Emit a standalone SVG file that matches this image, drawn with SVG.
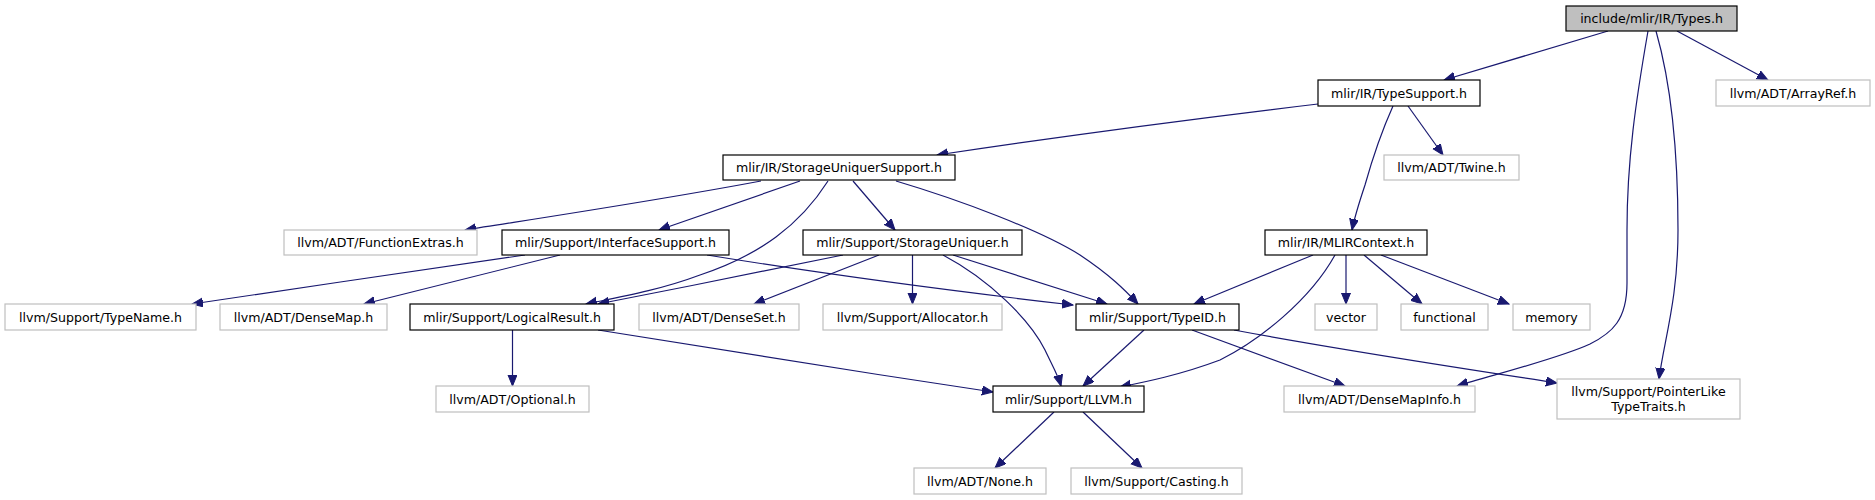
<svg xmlns="http://www.w3.org/2000/svg" width="1875" height="500" viewBox="0 0 1875 500">
<style>
.n rect{fill:#ffffff;stroke:#000000;stroke-width:1.2}
.g rect{fill:#ffffff;stroke:#bfbfbf;stroke-width:1.2}
.root rect{fill:#bfbfbf;stroke:#000000;stroke-width:1.2}
text{font-family:"DejaVu Sans","Liberation Sans",sans-serif;font-size:12.6px;fill:#000000;text-anchor:middle}
#edges path{fill:none;stroke:#191970;stroke-width:1.2;marker-end:url(#ah)}
</style>
<defs>
<marker id="ah" markerUnits="userSpaceOnUse" markerWidth="12" markerHeight="10" refX="11" refY="4.5" orient="auto">
<path d="M0,0 L11,4.5 L0,9 z" fill="#191970" stroke="#191970" stroke-width="1"/>
</marker>
</defs>
<rect x="0" y="0" width="1875" height="500" fill="#ffffff"/>
<g id="edges">
<path d="M1608,31 L1444,80"/>
<path d="M1677,31 L1768,80"/>
<path d="M1648,31 C1636,100 1627,160 1627,230 L1627,283 C1627,320 1612,333 1590,344 C1560,358 1500,373 1457,386"/>
<path d="M1656,31 C1670,80 1678,140 1678,230 C1678,300 1664,340 1659,379"/>
<path d="M1318,104 C1200,118 1050,138 937,155"/>
<path d="M1408,106 L1443,155"/>
<path d="M1393,106 C1380,135 1372,160 1365,185 C1360,200 1355,215 1352,230"/>
<path d="M761,181 C660,200 560,215 465,230"/>
<path d="M800,181 L659,230"/>
<path d="M853,181 L895,230"/>
<path d="M828,181 C800,225 760,255 700,275 C660,290 620,297 586,304"/>
<path d="M896,181 C960,200 1040,230 1080,255 C1110,275 1125,290 1138,304"/>
<path d="M525,255 C420,270 300,288 192,304"/>
<path d="M560,255 L364,304"/>
<path d="M707,255 C830,275 960,292 1073,305"/>
<path d="M843,255 C760,272 680,288 598,304"/>
<path d="M879,255 L754,304"/>
<path d="M912.5,255 L912.5,304"/>
<path d="M953,255 L1107,304"/>
<path d="M943,255 C990,280 1030,320 1045,350 C1052,365 1058,375 1061,386"/>
<path d="M1313,255 L1194,304"/>
<path d="M1335,255 C1310,300 1260,340 1220,360 C1180,375 1145,382 1120,387"/>
<path d="M1346,255 L1346,304"/>
<path d="M1364,255 L1422,304"/>
<path d="M1381,255 L1509,304"/>
<path d="M512.5,330 L512.5,386"/>
<path d="M598,330 C720,350 860,372 993,392"/>
<path d="M1144,330 L1083,386"/>
<path d="M1192,330 L1345,386"/>
<path d="M1234,330 C1340,350 1460,368 1557,383"/>
<path d="M1054,412 L995,468"/>
<path d="M1083,412 L1142,468"/>
</g>
<g id="types_h" class="root"><rect x="1566" y="6" width="171" height="25"/><text x="1651.5" y="23">include/mlir/IR/Types.h</text></g>
<g id="typesupport_h" class="n"><rect x="1318" y="80" width="162" height="26"/><text x="1399" y="97.5">mlir/IR/TypeSupport.h</text></g>
<g id="arrayref_h" class="g"><rect x="1716" y="80" width="154" height="26"/><text x="1793" y="97.5">llvm/ADT/ArrayRef.h</text></g>
<g id="storageuniquersupport_h" class="n"><rect x="723" y="155" width="232" height="25"/><text x="839" y="172">mlir/IR/StorageUniquerSupport.h</text></g>
<g id="twine_h" class="g"><rect x="1384" y="155" width="135" height="25"/><text x="1451.5" y="172">llvm/ADT/Twine.h</text></g>
<g id="functionextras_h" class="g"><rect x="284" y="230" width="193" height="25"/><text x="380.5" y="247">llvm/ADT/FunctionExtras.h</text></g>
<g id="interfacesupport_h" class="n"><rect x="502" y="230" width="227" height="25"/><text x="615.5" y="247">mlir/Support/InterfaceSupport.h</text></g>
<g id="storageuniquer_h" class="n"><rect x="803" y="230" width="219" height="25"/><text x="912.5" y="247">mlir/Support/StorageUniquer.h</text></g>
<g id="mlircontext_h" class="n"><rect x="1265" y="230" width="162" height="25"/><text x="1346" y="247">mlir/IR/MLIRContext.h</text></g>
<g id="typename_h" class="g"><rect x="5" y="304" width="191" height="26"/><text x="100.5" y="321.5">llvm/Support/TypeName.h</text></g>
<g id="densemap_h" class="g"><rect x="220" y="304" width="167" height="26"/><text x="303.5" y="321.5">llvm/ADT/DenseMap.h</text></g>
<g id="logicalresult_h" class="n"><rect x="410" y="304" width="204" height="26"/><text x="512" y="321.5">mlir/Support/LogicalResult.h</text></g>
<g id="denseset_h" class="g"><rect x="639" y="304" width="160" height="26"/><text x="719" y="321.5">llvm/ADT/DenseSet.h</text></g>
<g id="allocator_h" class="g"><rect x="823" y="304" width="179" height="26"/><text x="912.5" y="321.5">llvm/Support/Allocator.h</text></g>
<g id="typeid_h" class="n"><rect x="1076" y="304" width="163" height="26"/><text x="1157.5" y="321.5">mlir/Support/TypeID.h</text></g>
<g id="vector" class="g"><rect x="1315" y="304" width="62" height="26"/><text x="1346" y="321.5">vector</text></g>
<g id="functional" class="g"><rect x="1401" y="304" width="87" height="26"/><text x="1444.5" y="321.5">functional</text></g>
<g id="memory" class="g"><rect x="1513" y="304" width="77" height="26"/><text x="1551.5" y="321.5">memory</text></g>
<g id="optional_h" class="g"><rect x="436" y="386" width="153" height="26"/><text x="512.5" y="403.5">llvm/ADT/Optional.h</text></g>
<g id="llvm_h" class="n"><rect x="993" y="386" width="151" height="26"/><text x="1068.5" y="403.5">mlir/Support/LLVM.h</text></g>
<g id="densemapinfo_h" class="g"><rect x="1284" y="386" width="191" height="26"/><text x="1379.5" y="403.5">llvm/ADT/DenseMapInfo.h</text></g>
<g id="pointerliketypetraits_h" class="g"><rect x="1557" y="379" width="183" height="40"/><text x="1648.5" y="395.5">llvm/Support/PointerLike</text><text x="1648.5" y="410.5">TypeTraits.h</text></g>
<g id="none_h" class="g"><rect x="914" y="468" width="132" height="26"/><text x="980" y="485.5">llvm/ADT/None.h</text></g>
<g id="casting_h" class="g"><rect x="1071" y="468" width="171" height="26"/><text x="1156.5" y="485.5">llvm/Support/Casting.h</text></g>
</svg>
